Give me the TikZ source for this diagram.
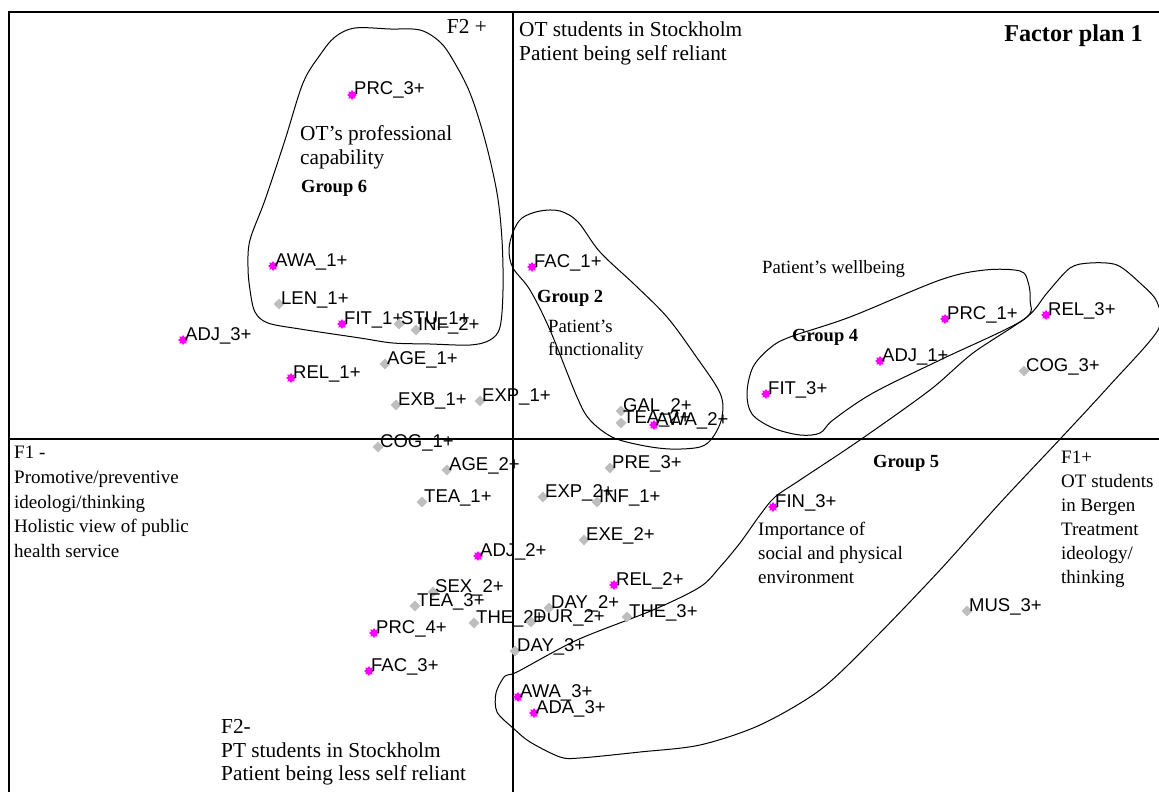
\documentclass[tikz,border=0pt]{standalone}
\usepackage{fontspec}
\setmainfont{Liberation Serif}
\setsansfont{Liberation Sans}
\usetikzlibrary{shapes.geometric}
\definecolor{ptgray}{RGB}{190,190,190}
\definecolor{ptmag}{RGB}{255,0,255}
\newcommand{\apos}{{\char"27}}
\begin{document}
\begin{tikzpicture}[x=1pt,y=-1pt,
  mpt/.style={star, star points=8, star point ratio=1.5, fill=ptmag, draw=none, minimum size=10pt, inner sep=0pt},
  gpt/.style={diamond, fill=ptgray, draw=none, minimum size=11pt, inner sep=0pt},
  lab/.style={anchor=base west, inner sep=0pt, font=\sffamily\fontsize{18.5}{18.5}\selectfont},
  txt/.style={anchor=base west, inner sep=0pt, font=\rmfamily\fontsize{19}{19}\selectfont},
  bigtxt/.style={txt, font=\rmfamily\fontsize{21.3}{21.3}\selectfont},
  smtxt/.style={txt, font=\rmfamily\fontsize{18.7}{18.7}\selectfont},
  grp/.style={anchor=base west, inner sep=0pt, font=\rmfamily\bfseries\fontsize{18.5}{18.5}\selectfont},
  hull/.style={draw=black, line width=1pt, line join=round},
  axisline/.style={draw=black, line width=1.3pt}
]
\useasboundingbox[fill=white] (0,0) rectangle (1159,792);

% frame and factor axes
\coordinate (frbl) at (9,792);
\coordinate (frtl) at (9,12);
\coordinate (frtr) at (1159,12);
\coordinate (vtop) at (513,12);
\coordinate (vbot) at (513,792);
\coordinate (hl) at (9,439);
\coordinate (hr) at (1159,439);
\draw[axisline] (frbl) -- (frtl) -- (frtr);
\draw[axisline] (vtop) -- (vbot);
\draw[axisline] (hl) -- (hr);

% group outlines
\draw[hull] plot[smooth cycle, tension=0.55] coordinates {
  (355,28) (390,29) (420,30) (440,42) (453,60) (470,93) (485,140) (497,193)
  (502,240) (503,290) (500,327) (490,340) (470,345) (430,344) (393,343)
  (360,338) (300,329) (268,323) (255,312) (250,290) (248,267) (250,240)
  (265,200) (285,140) (303,83) (320,55) (335,37)};
\draw[hull] plot[smooth cycle, tension=0.55] coordinates {
  (513,232) (522,218) (540,211) (560,211) (578,222) (600,252) (635,285)
  (667,317) (695,355) (720,393) (722,417) (713,437) (700,447) (670,449)
  (640,445) (612,437) (590,420) (577,397) (550,330) (530,290) (513,268) (509,250)};
\draw[hull] plot[smooth cycle, tension=0.55] coordinates {
  (790,337) (850,317) (940,280) (985,270) (1020,271) (1028,282) (1030,300)
  (1023,320) (940,360) (873,393) (833,420) (820,433) (800,435) (773,428)
  (752,414) (747,393) (753,367) (770,348)};
\draw[hull] plot[smooth cycle, tension=0.5] coordinates {
  (1090,263) (1117,265) (1140,283) (1157,302) (1158,330) (1110,385) (1062,437)
  (1000,503) (940,570) (873,640) (820,690) (760,725) (700,745) (640,752)
  (580,758) (560,757) (530,742) (513,728) (497,712) (496,693) (505,676)
  (517,672) (577,640) (653,610) (700,587) (720,567) (740,543) (760,515)
  (775,497) (800,480) (860,440) (930,390) (973,353) (1027,317) (1047,293) (1070,268)};

% category points: magenta
\foreach \n/\x/\y/\t in {
  prcA/352/95/PRC\_3+, awaA/273/266/AWA\_1+, adjC/183/340/ADJ\_3+,
  fitA/342/324/FIT\_1+, relA/291/378/REL\_1+, facA/532/267/FAC\_1+,
  awaB/654/425/AWA\_2+, prcB/945/319/PRC\_1+, adjA/880/361/ADJ\_1+,
  fitC/766/394/FIT\_3+, relC/1046/315/REL\_3+, finC/773/507/FIN\_3+,
  adjB/478/556/ADJ\_2+, relB/614/585/REL\_2+, prcD/374/633/PRC\_4+,
  facC/369/671/FAC\_3+, awaC/518/697/AWA\_3+, adaC/534/713/ADA\_3+}
{
  \node[mpt] (\n) at (\x,\y) {};
  \node[lab] (\n-t) at ([xshift=2pt]\n.center) {\t};
}

% category points: gray
\foreach \n/\x/\y/\t in {
  lenA/279/304/LEN\_1+, stuA/399/324/STU\_1+, infB/416/330/INF\_2+,
  ageA/385/364/AGE\_1+, exbA/396/405/EXB\_1+, expA/480/401/EXP\_1+,
  cogA/378/447/COG\_1+, galB/621/411/GAL\_2+, teaB/621/423/TEA\_2+,
  ageB/447/470/AGE\_2+, preC/610/468/PRE\_3+, teaA/422/502/TEA\_1+,
  expB/543/497/EXP\_2+, infA/597/502/INF\_1+, exeB/584/540/EXE\_2+,
  sexB/433/592/SEX\_2+, teaC/415/606/TEA\_3+, theB/474/623/THE\_2+,
  durB/531/622/DUR\_2+, dayB/549/608/DAY\_2+, theC/627/617/THE\_3+,
  dayC/515/651/DAY\_3+, cogC/1024/371/COG\_3+, musC/967/611/MUS\_3+}
{
  \node[gpt] (\n) at (\x,\y) {};
  \node[lab] (\n-t) at ([xshift=2pt]\n.center) {\t};
}

% axis and group annotations
\node[bigtxt, anchor=base east] (f2p) at (487,34) {F2 +};
\node[bigtxt] (ots1) at (519,37) {OT students in Stockholm};
\node[bigtxt] (ots2) at (519,61) {Patient being self reliant};
\node[anchor=base east, inner sep=0pt, font=\rmfamily\bfseries\fontsize{24.2}{24.2}\selectfont] (title) at (1143,42) {Factor plan 1};

\node[bigtxt] (g6a) at (300,140) {OT\apos s professional};
\node[bigtxt] (g6b) at (300,164) {capability};
\node[grp] (g6) at (301,192) {Group 6};

\node[grp] (g2) at (537,302) {Group 2};
\node[smtxt] (g2a) at (548,332) {Patient\apos s};
\node[smtxt] (g2b) at (548,355) {functionality};

\node[smtxt] (g4a) at (762,273) {Patient\apos s wellbeing};
\node[grp] (g4) at (792,341) {Group 4};

\node[grp] (g5) at (873,467) {Group 5};
\node[txt] (g5a) at (758,535) {Importance of};
\node[txt] (g5b) at (758,559) {social and physical};
\node[txt] (g5c) at (758,583) {environment};

\node[txt] (f1p) at (1061,463) {F1+};
\node[txt] (f1pa) at (1061,487) {OT students};
\node[txt] (f1pb) at (1061,511) {in Bergen};
\node[txt] (f1pc) at (1061,535) {Treatment};
\node[txt] (f1pd) at (1061,559) {ideology/};
\node[txt] (f1pe) at (1061,583) {thinking};

\node[txt] (f1m) at (14,458) {F1 -};
\node[txt] (f1ma) at (14,483) {Promotive/preventive};
\node[txt] (f1mb) at (14,508) {ideologi/thinking};
\node[txt] (f1mc) at (14,532) {Holistic view of public};
\node[txt] (f1md) at (14,557) {health service};

\node[bigtxt] (f2m) at (221,733) {F2-};
\node[bigtxt] (f2ma) at (221,757) {PT students in Stockholm};
\node[bigtxt] (f2mb) at (221,780) {Patient being less self reliant};
\end{tikzpicture}
\end{document}
